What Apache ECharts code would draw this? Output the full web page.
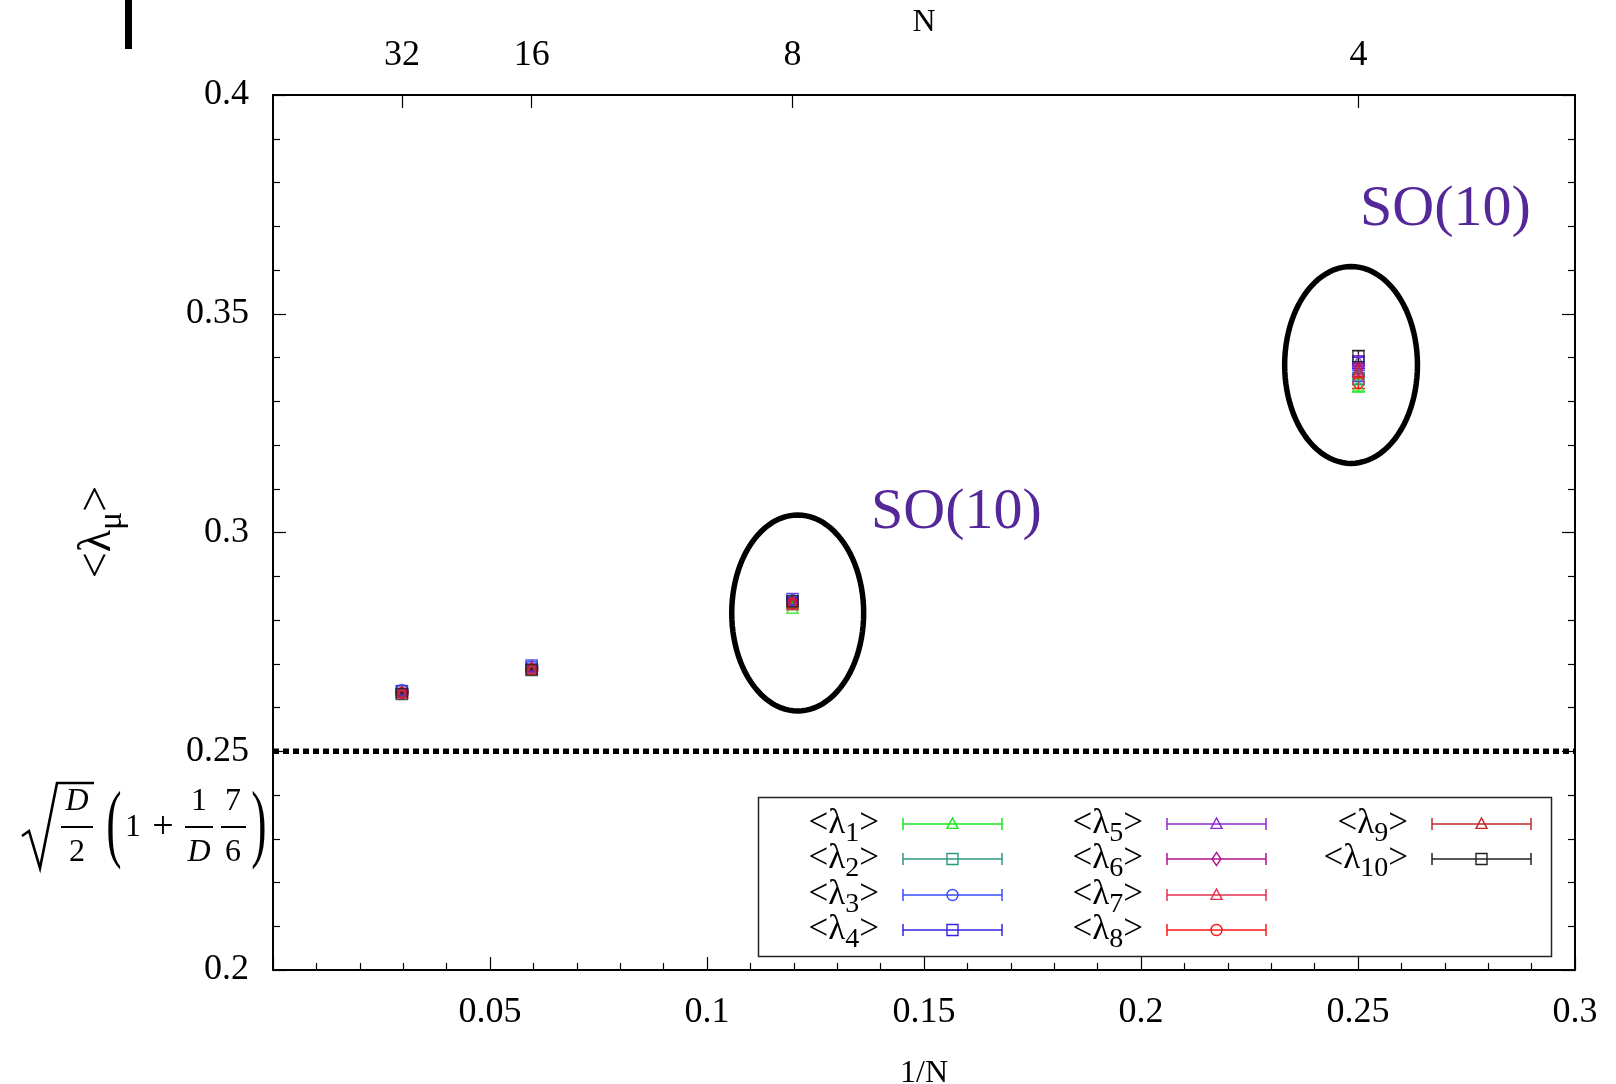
<!DOCTYPE html>
<html>
<head>
<meta charset="utf-8">
<title>Eigenvalue extents vs 1/N</title>
<script src="https://cdn.jsdelivr.net/npm/echarts@6/dist/echarts.min.js"></script>
<style>
  html, body { margin: 0; padding: 0; background: #fff; }
  #chart { width: 1616px; height: 1084px; }
</style>
</head>
<body>
<div id="chart"></div>
<script>
// Matrix sizes and the abscissa at which each set of points sits (bottom axis 1/N, top axis labels N)
const sizesN = [32, 16, 8, 4];
const xN = [0.0297, 0.0596, 0.1197, 0.2501];

// <lambda_mu> for mu = 1..10 at N = 32, 16, 8, 4
const lam1  = [0.2636, 0.2688, 0.2828, 0.3336];
const lam2  = [0.2638, 0.2692, 0.2842, 0.3352];
const lam3  = [0.2640, 0.2694, 0.2846, 0.3358];
const lam4  = [0.2637, 0.2696, 0.2848, 0.3388];
const lam5  = [0.2635, 0.2693, 0.2845, 0.3392];
const lam6  = [0.2634, 0.2690, 0.2840, 0.3374];
const lam7  = [0.2635, 0.2689, 0.2836, 0.3368];
const lam8  = [0.2633, 0.2687, 0.2838, 0.3342];
const lam9  = [0.2636, 0.2688, 0.2839, 0.3370];
const lam10 = [0.2631, 0.2686, 0.2843, 0.3403];

// statistical errors
const err1  = [0.0003, 0.0003, 0.0004, 0.0015];
const err2  = [0.0003, 0.0003, 0.0004, 0.0014];
const err3  = [0.0003, 0.0003, 0.0004, 0.0013];
const err4  = [0.0003, 0.0003, 0.0004, 0.0013];
const err5  = [0.0003, 0.0003, 0.0004, 0.0012];
const err6  = [0.0003, 0.0003, 0.0004, 0.0012];
const err7  = [0.0003, 0.0003, 0.0004, 0.0013];
const err8  = [0.0003, 0.0003, 0.0004, 0.0013];
const err9  = [0.0003, 0.0003, 0.0004, 0.0013];
const err10 = [0.0003, 0.0003, 0.0004, 0.0013];

const lamValues = [lam1, lam2, lam3, lam4, lam5, lam6, lam7, lam8, lam9, lam10];
const lamErrors = [err1, err2, err3, err4, err5, err6, err7, err8, err9, err10];
const lamSubs = ['1', '2', '3', '4', '5', '6', '7', '8', '9', '10'];

// Gaussian-expansion prediction sqrt(D/2)(1 + 7/(6D)), drawn as a dotted level
const refLevel = 0.25;

// axis tick values
const xTicks = [0.05, 0.1, 0.15, 0.2, 0.25, 0.3];
const yTicks = [0.2, 0.25, 0.3, 0.35, 0.4];

// highlighted SO(10) points (centre and half-axes, in data units)
const soMarks = [
  { cx: 0.1209, cy: 0.2816, rx: 0.0152, ry: 0.0224 },
  { cx: 0.2484, cy: 0.3383, rx: 0.0153, ry: 0.0225 }
];
const soLabel = 'SO(10)';

// ---- styling ----
const FONT = '"Liberation Serif", "Times New Roman", serif';
const colors = ['#19e619', '#2a9a80', '#3a4cff', '#3523e0', '#8a2ad0',
                '#b0108f', '#e6304f', '#ff1414', '#c02828', '#222222'];
const shapes = ['triangle', 'rect', 'circle', 'rect', 'triangle',
                'diamond', 'triangle', 'circle', 'triangle', 'rect'];

const chart = echarts.init(document.getElementById('chart'));

const measureCtx = document.createElement('canvas').getContext('2d');
function textWidth(str, size, italic) {
  measureCtx.font = (italic ? 'italic ' : '') + size + 'px ' + FONT;
  return measureCtx.measureText(str).width;
}

// "<λ_sub>" as separate text pieces, laid out horizontally around x0
function lambdaPieces(x0, y, sub, size, subSize, subDy, align) {
  const w1 = textWidth('<λ', size);
  const w2 = textWidth(sub, subSize);
  const w3 = textWidth('>', size);
  const total = w1 + w2 + w3;
  let start = x0;
  if (align === 'right') start = x0 - total;
  else if (align === 'center') start = x0 - total / 2;
  const base = { fill: '#000', verticalAlign: 'middle', align: 'left' };
  return [
    { type: 'text', x: start, y: y, style: Object.assign({ text: '<λ', font: size + 'px ' + FONT }, base) },
    { type: 'text', x: start + w1, y: y + subDy, style: Object.assign({ text: sub, font: subSize + 'px ' + FONT }, base) },
    { type: 'text', x: start + w1 + w2, y: y, style: Object.assign({ text: '>', font: size + 'px ' + FONT }, base) }
  ];
}

function markerShape(kind, cx, cy, r, color) {
  const st = { fill: 'none', stroke: color, lineWidth: 1.4 };
  if (kind === 'circle') return { type: 'circle', shape: { cx: cx, cy: cy, r: r }, style: st };
  if (kind === 'rect') return { type: 'rect', shape: { x: cx - r, y: cy - r, width: 2 * r, height: 2 * r }, style: st };
  if (kind === 'diamond') return { type: 'polygon', shape: { points: [[cx, cy - r * 1.2], [cx + r * 0.8, cy], [cx, cy + r * 1.2], [cx - r * 0.8, cy]] }, style: st };
  return { type: 'polygon', shape: { points: [[cx, cy - r * 1.1], [cx + r, cy + r * 0.8], [cx - r, cy + r * 0.8]] }, style: st };
}

// ---- legend, built by hand to show error-bar samples ----
const legendCols = [
  { textRight: 879, lineL: 903, lineR: 1002 },
  { textRight: 1143, lineL: 1167, lineR: 1266 },
  { textRight: 1408, lineL: 1432, lineR: 1531 }
];
const legendRows = [824, 859, 895, 930];
const legendEls = [{
  type: 'rect', shape: { x: 758.5, y: 797.5, width: 793, height: 159 },
  style: { fill: '#fff', stroke: '#222', lineWidth: 1.5 }, z: 10
}];
lamSubs.forEach(function (sub, i) {
  const col = legendCols[Math.floor(i / 4)];
  const y = legendRows[i % 4];
  lambdaPieces(col.textRight, y, sub, 35, 28, 10, 'right').forEach(function (t) { t.z = 11; legendEls.push(t); });
  const c = colors[i];
  const mid = (col.lineL + col.lineR) / 2;
  legendEls.push({ type: 'line', z: 11, shape: { x1: col.lineL, y1: y, x2: col.lineR, y2: y }, style: { stroke: c, lineWidth: 1.5 } });
  legendEls.push({ type: 'line', z: 11, shape: { x1: col.lineL, y1: y - 6, x2: col.lineL, y2: y + 6 }, style: { stroke: c, lineWidth: 1.5 } });
  legendEls.push({ type: 'line', z: 11, shape: { x1: col.lineR, y1: y - 6, x2: col.lineR, y2: y + 6 }, style: { stroke: c, lineWidth: 1.5 } });
  const m = markerShape(shapes[i], mid, y, 5.5, c);
  m.z = 12;
  legendEls.push(m);
});

// ---- y-axis title <λ_μ>, rotated ----
const yTitle = {
  type: 'group', x: 98, y: 532, rotation: Math.PI / 2,
  children: lambdaPieces(0, 0, 'μ', 46, 34, 14, 'center')
};

// ---- formula label next to the reference level ----
function ftext(str, x, y, size, italic) {
  return { type: 'text', x: x, y: y, style: { text: str, font: (italic ? 'italic ' : '') + size + 'px ' + FONT, fill: '#000', align: 'center', verticalAlign: 'middle' } };
}
function fline(x1, x2, y) {
  return { type: 'line', shape: { x1: x1, y1: y, x2: x2, y2: y }, style: { stroke: '#000', lineWidth: 2 } };
}
const formula = {
  type: 'group', x: 0, y: 0,
  children: [
    { type: 'polyline', shape: { points: [[22, 836], [29, 831], [40, 868], [57, 783], [94, 783]] }, style: { stroke: '#000', lineWidth: 2.6, fill: 'none' } },
    ftext('D', 77, 802, 32, true), fline(61, 93, 827), ftext('2', 77, 853, 32),
    { type: 'text', x: 114, y: 828, scaleY: 1.9, style: { text: '(', font: '46px ' + FONT, fill: '#000', align: 'center', verticalAlign: 'middle' } },
    ftext('1', 133, 828, 32), ftext('+', 163, 828, 38),
    ftext('1', 199, 802, 32), fline(185, 213, 827), ftext('D', 199, 853, 32, true),
    ftext('7', 233, 802, 32), fline(221, 246, 827), ftext('6', 233, 853, 32),
    { type: 'text', x: 259, y: 828, scaleY: 1.9, style: { text: ')', font: '46px ' + FONT, fill: '#000', align: 'center', verticalAlign: 'middle' } }
  ]
};

// ---- series ----
const series = [];

// dotted reference level
series.push({
  type: 'line', xAxisIndex: 0, yAxisIndex: 0, symbol: 'none', silent: true, z: 3,
  data: [[0, refLevel], [0.3, refLevel]],
  lineStyle: { color: '#000', width: 5.5, type: [6, 4] }
});

lamValues.forEach(function (vals, i) {
  const c = colors[i];
  const rows = xN.map(function (x, k) { return [x, vals[k], lamErrors[i][k]]; });
  // error bars
  series.push({
    type: 'custom', xAxisIndex: 0, yAxisIndex: 0, z: 4, silent: true,
    data: rows,
    renderItem: function (params, api) {
      const x = api.value(0), y = api.value(1), e = api.value(2);
      const top = api.coord([x, y + e]);
      const bot = api.coord([x, y - e]);
      const hw = 6.5;
      const st = { stroke: c, lineWidth: 1.4 };
      return {
        type: 'group',
        children: [
          { type: 'line', shape: { x1: top[0], y1: top[1], x2: bot[0], y2: bot[1] }, style: st },
          { type: 'line', shape: { x1: top[0] - hw, y1: top[1], x2: top[0] + hw, y2: top[1] }, style: st },
          { type: 'line', shape: { x1: bot[0] - hw, y1: bot[1], x2: bot[0] + hw, y2: bot[1] }, style: st }
        ]
      };
    }
  });
  // point markers
  series.push({
    type: 'scatter', xAxisIndex: 0, yAxisIndex: 0, z: 5, silent: true,
    symbol: shapes[i], symbolSize: shapes[i] === 'diamond' ? [9, 12] : 11,
    data: rows.map(function (r) { return [r[0], r[1]]; }),
    itemStyle: { color: 'rgba(0,0,0,0)', borderColor: c, borderWidth: 1.5 }
  });
});

// ellipses around the SO(10)-symmetric points
series.push({
  type: 'custom', xAxisIndex: 0, yAxisIndex: 0, z: 6, silent: true,
  data: soMarks.map(function (m) { return [m.cx, m.cy, m.rx, m.ry]; }),
  renderItem: function (params, api) {
    const c = api.coord([api.value(0), api.value(1)]);
    const s = api.size([api.value(2), api.value(3)]);
    const pts = [];
    for (let k = 0; k < 96; k++) {
      const t = (k / 96) * Math.PI * 2;
      pts.push([c[0] + s[0] * Math.cos(t), c[1] + s[1] * Math.sin(t)]);
    }
    return { type: 'polygon', shape: { points: pts }, style: { fill: 'none', stroke: '#000', lineWidth: 5.5 } };
  }
});

const axisLineStyle = { color: '#000', width: 2 };
const tickStyle = { color: '#000', width: 1.2 };
const labelBase = { color: '#000', fontFamily: FONT, fontSize: 36 };

const option = {
  animation: false,
  backgroundColor: '#fff',
  grid: { left: 273, right: 41, top: 95, bottom: 114, containLabel: false, outerBoundsMode: 'none' },
  xAxis: [
    {
      type: 'value', position: 'bottom', min: 0, max: 0.3, interval: 0.05,
      name: '1/N', nameLocation: 'middle', nameGap: 88,
      nameTextStyle: { color: '#000', fontFamily: FONT, fontSize: 32 },
      axisLine: { show: true, onZero: false, lineStyle: axisLineStyle },
      axisTick: { show: true, inside: true, length: 13, lineStyle: tickStyle },
      minorTick: { show: true, splitNumber: 5, length: 7, lineStyle: tickStyle },
      splitLine: { show: false },
      axisLabel: Object.assign({
        margin: 25,
        customValues: xTicks,
        formatter: function (v) { return String(+v.toFixed(2)); }
      }, labelBase)
    },
    {
      type: 'value', position: 'top', min: 0, max: 0.3,
      name: 'N', nameLocation: 'middle', nameGap: 56, nameMoveOverlap: false,
      nameTextStyle: { color: '#000', fontFamily: FONT, fontSize: 32 },
      axisLine: { show: true, onZero: false, lineStyle: axisLineStyle },
      axisTick: { show: true, inside: true, length: 13, lineStyle: tickStyle, customValues: xN },
      splitLine: { show: false },
      axisLabel: Object.assign({
        margin: 21,
        customValues: xN,
        formatter: function (v) {
          const k = xN.findIndex(function (x) { return Math.abs(x - v) < 1e-9; });
          return k >= 0 ? String(sizesN[k]) : '';
        }
      }, labelBase)
    }
  ],
  yAxis: [
    {
      type: 'value', position: 'left', min: 0.2, max: 0.4, interval: 0.05,
      axisLine: { show: true, onZero: false, lineStyle: axisLineStyle },
      axisTick: { show: true, inside: true, length: 13, lineStyle: tickStyle },
      minorTick: { show: true, splitNumber: 5, length: 7, lineStyle: tickStyle },
      splitLine: { show: false },
      axisLabel: Object.assign({
        margin: 24,
        customValues: yTicks,
        formatter: function (v) { return String(+v.toFixed(2)); }
      }, labelBase)
    },
    {
      type: 'value', position: 'right', min: 0.2, max: 0.4, interval: 0.05,
      axisLine: { show: true, onZero: false, lineStyle: axisLineStyle },
      axisTick: { show: true, inside: true, length: 13, lineStyle: tickStyle },
      minorTick: { show: true, splitNumber: 5, length: 7, lineStyle: tickStyle },
      splitLine: { show: false },
      axisLabel: { show: false }
    }
  ],
  series: series,
  graphic: [
    { type: 'rect', shape: { x: 125, y: 0, width: 7, height: 49 }, style: { fill: '#000' } },
    yTitle,
    formula,
    { type: 'text', x: 871, y: 513, style: { text: soLabel, font: '58px ' + FONT, fill: '#55289a', align: 'left', verticalAlign: 'middle' } },
    { type: 'text', x: 1360, y: 210, style: { text: soLabel, font: '58px ' + FONT, fill: '#55289a', align: 'left', verticalAlign: 'middle' } }
  ].concat(legendEls)
};

chart.setOption(option);
</script>
</body>
</html>
